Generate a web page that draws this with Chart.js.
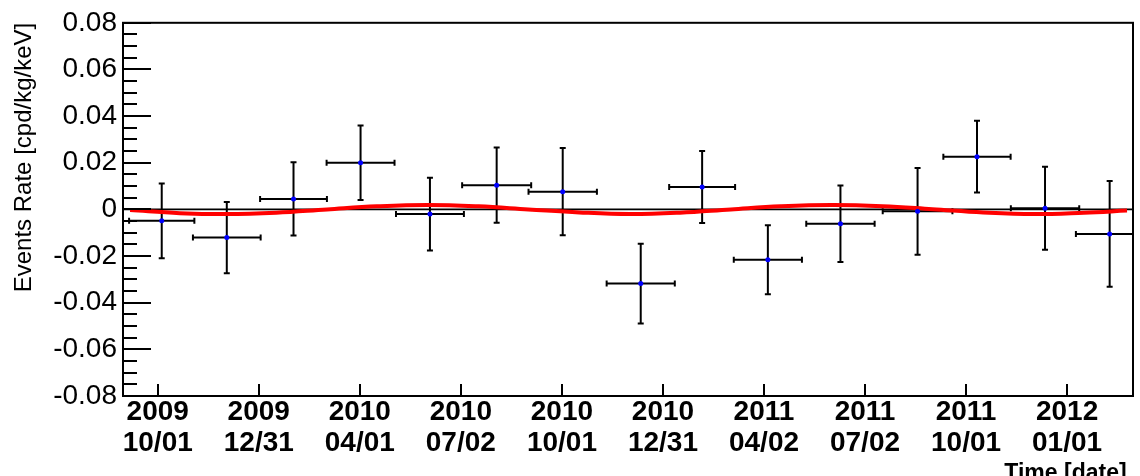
<!DOCTYPE html>
<html>
<head>
<meta charset="utf-8">
<script src="https://cdn.jsdelivr.net/npm/chart.js@4.4.1/dist/chart.umd.min.js"></script>
<style>
  html, body { margin: 0; padding: 0; background: #fff; }
  canvas { display: block; }
</style>
</head>
<body>
<canvas id="chart" width="1140" height="476"></canvas>
<script>
// time in days counted from 2009/10/01
const binDays = [3.6, 62.4, 122.7, 183.3, 246.0, 306.3, 366.0, 436.5, 492.0, 551.4, 617.0, 686.7, 740.4, 801.9, 860.3];
const dayErr = [29.5, 30.6, 30.2, 30.7, 30.7, 31.2, 30.9, 30.8, 29.8, 30.8, 30.9, 31.5, 30.4, 30.9, 30.5];
const rates = [-0.0049, -0.0121, 0.0045, 0.0200, -0.0020, 0.0104, 0.0076, -0.0318, 0.0096, -0.0216, -0.0062, -0.0008, 0.0226, 0.0005, -0.0105];
const rateErr = [0.0160, 0.0153, 0.0157, 0.0160, 0.0156, 0.0161, 0.0187, 0.0171, 0.0154, 0.0148, 0.0164, 0.0186, 0.0154, 0.0178, 0.0227];

// red fit curve
const fitDays = [-25, 20, 62, 107, 153, 198, 244, 290, 335, 381, 427, 472, 518, 563, 609, 655, 700, 746, 792, 837, 876];
const fitRate = [-0.0003, -0.0016, -0.0020, -0.0014, 0.0000, 0.0013, 0.0019, 0.0013, 0.0000, -0.0013, -0.0020, -0.0014, 0.0000, 0.0013, 0.0019, 0.0014, 0.0001, -0.0013, -0.0020, -0.0014, -0.0005];

const tickDays = [0, 91.3, 182.6, 273.9, 365.3, 456.6, 547.9, 639.2, 730.5, 821.8];
const tickYears = ["2009", "2009", "2010", "2010", "2010", "2010", "2011", "2011", "2011", "2012"];
const tickDates = ["10/01", "12/31", "04/01", "07/02", "10/01", "12/31", "04/02", "07/02", "10/01", "01/01"];

const FONT = "'Liberation Sans', Arial, Helvetica, sans-serif";

// error bars, zero line, frame and inner ticks (ROOT style)
const rootStyle = {
    id: "rootStyle",
    beforeDatasetsDraw(chart) {
        const { ctx, chartArea: a, scales: { x, y } } = chart;
        ctx.save();
        ctx.beginPath();
        ctx.rect(a.left, a.top, a.right - a.left, a.bottom - a.top);
        ctx.clip();

        ctx.strokeStyle = "#000";
        ctx.lineWidth = 1.6;
        const y0 = y.getPixelForValue(0);
        ctx.beginPath();
        ctx.moveTo(a.left, y0);
        ctx.lineTo(a.right, y0);
        ctx.stroke();

        ctx.lineWidth = 2;
        const cap = 3;
        for (let i = 0; i < binDays.length; i++) {
            const px = x.getPixelForValue(binDays[i]);
            const py = y.getPixelForValue(rates[i]);
            const xl = x.getPixelForValue(binDays[i] - dayErr[i]);
            const xr = x.getPixelForValue(binDays[i] + dayErr[i]);
            const yt = y.getPixelForValue(rates[i] + rateErr[i]);
            const yb = y.getPixelForValue(rates[i] - rateErr[i]);
            ctx.beginPath();
            ctx.moveTo(xl, py); ctx.lineTo(xr, py);
            ctx.moveTo(px, yt); ctx.lineTo(px, yb);
            ctx.moveTo(xl, py - cap); ctx.lineTo(xl, py + cap);
            ctx.moveTo(xr, py - cap); ctx.lineTo(xr, py + cap);
            ctx.moveTo(px - cap, yt); ctx.lineTo(px + cap, yt);
            ctx.moveTo(px - cap, yb); ctx.lineTo(px + cap, yb);
            ctx.stroke();
        }
        ctx.restore();
    },
    afterDraw(chart) {
        const { ctx, chartArea: a, scales: { x, y } } = chart;
        ctx.save();
        ctx.strokeStyle = "#000";
        ctx.lineWidth = 2;
        ctx.strokeRect(a.left, a.top, a.right - a.left, a.bottom - a.top);

        ctx.beginPath();
        const n = 32;
        for (let k = 0; k <= n; k++) {
            const v = y.min + k * (y.max - y.min) / n;
            const py = Math.round(y.getPixelForValue(v));
            const len = k % 4 === 0 ? 28 : 14;
            ctx.moveTo(a.left, py);
            ctx.lineTo(a.left + len, py);
        }
        x.ticks.forEach(t => {
            const px = Math.round(x.getPixelForValue(t.value));
            ctx.moveTo(px, a.bottom);
            ctx.lineTo(px, a.bottom - 12);
        });
        ctx.stroke();
        ctx.restore();
    }
};

const ctx = document.getElementById("chart").getContext("2d");
new Chart(ctx, {
    type: "scatter",
    data: {
        datasets: [
            {
                label: "points",
                data: binDays.map((d, i) => ({ x: d, y: rates[i] })),
                backgroundColor: "#0000ff",
                borderWidth: 0,
                pointRadius: 2.5,
                order: 1
            },
            {
                label: "fit",
                data: fitDays.map((d, i) => ({ x: d, y: fitRate[i] })),
                showLine: true,
                borderColor: "#ff0000",
                borderWidth: 4,
                pointRadius: 0,
                tension: 0.4,
                order: 2
            }
        ]
    },
    options: {
        responsive: false,
        animation: false,
        devicePixelRatio: 1,
        layout: { padding: { top: 19, right: 7, left: 0, bottom: 0 } },
        plugins: {
            legend: { display: false },
            tooltip: { enabled: false }
        },
        scales: {
            x: {
                type: "linear",
                min: -31.4,
                max: 881.4,
                afterBuildTicks: s => { s.ticks = tickDays.map(v => ({ value: v })); },
                afterFit: s => { s.height = 80; },
                grid: { display: false, drawTicks: false },
                border: { display: false },
                ticks: {
                    autoSkip: false,
                    maxRotation: 0,
                    padding: 0,
                    color: "#000",
                    font: { family: FONT, size: 28, weight: "bold", lineHeight: 1.13 },
                    callback: (v, i) => [tickYears[i], tickDates[i]]
                },
                title: {
                    display: true,
                    text: "Time [date] ",
                    align: "end",
                    color: "#000",
                    font: { family: FONT, size: 23, weight: "bold", lineHeight: 1.2 },
                    padding: { top: 0, bottom: -11 }
                }
            },
            y: {
                min: -0.08,
                max: 0.08,
                afterFit: s => { s.width = 123; },
                grid: { display: false, drawTicks: false },
                border: { display: false },
                ticks: {
                    stepSize: 0.02,
                    padding: 6,
                    color: "#000",
                    font: { family: FONT, size: 28 },
                    callback: v => (Math.abs(v) < 1e-9 ? "0" : v.toFixed(2))
                },
                title: {
                    display: true,
                    text: "Events Rate [cpd/kg/keV]",
                    align: "end",
                    color: "#000",
                    font: { family: FONT, size: 24, lineHeight: 1.2 },
                    padding: { top: 10, bottom: 0 }
                }
            }
        }
    },
    plugins: [rootStyle]
});
</script>
</body>
</html>
